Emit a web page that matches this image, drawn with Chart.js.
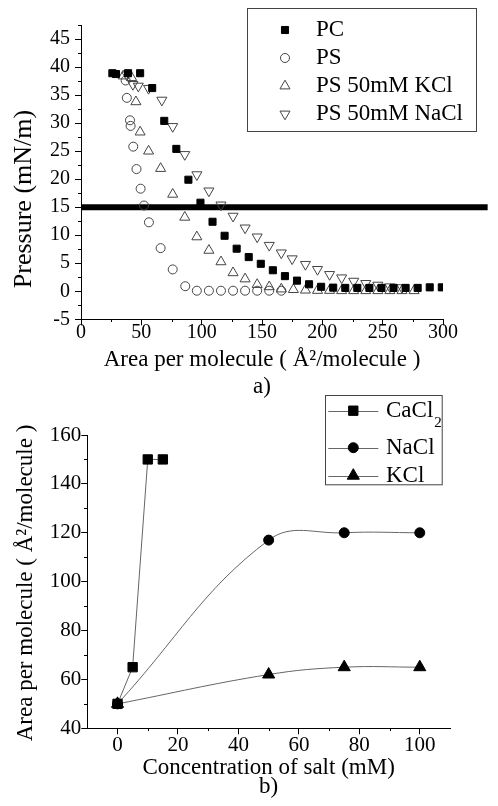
<!DOCTYPE html>
<html><head><meta charset="utf-8">
<script src="https://cdn.jsdelivr.net/npm/chart.js@4/dist/chart.umd.min.js"></script>
<style>
html,body{margin:0;padding:0;background:#fff;width:498px;height:806px;overflow:hidden;}
#ca{position:absolute;left:0;top:0;}
#cb{position:absolute;left:0;top:390px;}
</style></head><body>
<canvas id="ca" width="498" height="400" style="width:498px;height:400px"></canvas>
<canvas id="cb" width="498" height="416" style="width:498px;height:416px"></canvas>
<script>
// ---------- Chart a) data ----------
const pcX = [26, 29, 39, 49, 59, 69, 79, 89, 99, 109, 119, 129, 139, 149, 159, 169, 179, 189, 199, 209, 219, 229, 239, 249, 259, 269, 279, 289, 299];
const pcY = [38.9, 38.75, 38.9, 38.9, 36.25, 30.4, 25.4, 19.9, 15.8, 12.4, 9.9, 7.6, 6.1, 4.9, 3.75, 2.7, 1.9, 1.25, 0.8, 0.65, 0.6, 0.6, 0.6, 0.6, 0.6, 0.6, 0.6, 0.7, 0.7];
const psX = [37, 38, 40.6, 41.1, 43.3, 46, 49.4, 52.2, 56.3, 66, 76, 86.4, 96, 106, 116, 126, 136, 146, 156, 166];
const psY = [37.6, 34.5, 30.5, 29.5, 25.8, 21.8, 18.3, 15.3, 12.3, 7.7, 3.9, 0.9, 0.1, 0.1, 0.1, 0.1, 0.1, 0.1, 0.1, 0.1];
const kclX = [35, 42, 45.5, 49, 56, 66, 76, 86, 96, 106, 116, 126, 136, 146, 156, 166, 176, 186, 196, 206, 216, 226, 236, 246, 256, 266, 276];
const kclY = [38.4, 38.1, 33.8, 28.4, 25.0, 21.9, 17.3, 13.2, 9.7, 7.3, 5.25, 3.3, 2.2, 1.2, 0.8, 0.4, 0.3, 0.2, 0.15, 0.15, 0.1, 0.1, 0.1, 0.1, 0.1, 0.1, 0.1];
const naX = [38, 43, 47.5, 56, 67, 76, 86, 96, 106, 116, 126, 136, 146, 156, 166, 175, 186, 196, 206, 216, 226, 236, 246, 256, 266];
const naY = [38.6, 36.9, 36.6, 36.2, 34.1, 29.4, 24.4, 20.8, 17.9, 15.4, 13.4, 11.3, 9.7, 8.2, 6.85, 5.8, 4.8, 3.9, 3.0, 2.4, 1.8, 1.4, 1.1, 0.8, 0.65];
const refLineX = [0, 337];
const refLineY = [15, 15];
const seriesA = ['PC', 'PS', 'PS 50mM KCl', 'PS 50mM NaCl'];
const xTicksA = [0, 50, 100, 150, 200, 250, 300];
const xMinorA = [25, 75, 125, 175, 225, 275];
const yTicksA = [-5, 0, 5, 10, 15, 20, 25, 30, 35, 40, 45];
const yMinorA = [-2.5, 2.5, 7.5, 12.5, 17.5, 22.5, 27.5, 32.5, 37.5, 42.5, 47.5];

// ---------- Chart b) data ----------
const seriesB = ['CaCl₂', 'NaCl', 'KCl'];
const caX = [0, 5, 10, 15];
const caY = [50, 65, 150, 150];
const naclX = [0, 50, 75, 100];
const naclY = [50, 117, 120, 120];
const kX = [0, 50, 75, 100];
const kY = [50, 62, 65, 65];
const xTicksB = [0, 20, 40, 60, 80, 100];
const xMinorB = [10, 30, 50, 70, 90];
const yTicksB = [40, 60, 80, 100, 120, 140, 160];
const yMinorB = [50, 70, 90, 110, 130, 150];

const FONT = "'Liberation Serif', 'Times New Roman', serif";
const pts = (xs, ys) => xs.map((x, i) => ({x, y: ys[i]}));

function drawMarker(ctx, style, x, y, r, rot, fill, stroke, lw) {
  ctx.save();
  ctx.beginPath();
  if (style === 'rect') { const s = Math.SQRT1_2 * r; ctx.rect(x - s, y - s, 2 * s, 2 * s); }
  else if (style === 'circle') { ctx.arc(x, y, r, 0, Math.PI * 2); }
  else if (style === 'triangle') {
    let a = (rot || 0) * Math.PI / 180;
    for (let k = 0; k < 3; k++) {
      const px = x + Math.sin(a) * r, py = y - Math.cos(a) * r;
      if (k) ctx.lineTo(px, py); else ctx.moveTo(px, py);
      a += 2 * Math.PI / 3;
    }
    ctx.closePath();
  }
  if (fill) { ctx.fillStyle = fill; ctx.fill(); }
  if (stroke && lw) { ctx.strokeStyle = stroke; ctx.lineWidth = lw; ctx.stroke(); }
  ctx.restore();
}

const deco = {
  id: 'deco',
  afterDraw(chart, args, o) {
    const ctx = chart.ctx;
    ctx.save();
    ctx.strokeStyle = '#000'; ctx.lineWidth = 1;
    for (const m of (o.minor || [])) {
      const s = chart.scales[m.axis];
      for (const v of m.values) {
        const p = Math.round(s.getPixelForValue(v)) + 0.5;
        ctx.beginPath();
        if (s.isHorizontal()) { const y0 = Math.round(chart.chartArea.bottom); ctx.moveTo(p, y0); ctx.lineTo(p, y0 + m.len); }
        else { const x0 = Math.round(chart.chartArea.left); ctx.moveTo(x0, p); ctx.lineTo(x0 - m.len, p); }
        ctx.stroke();
      }
    }
    if (o.ytitle) {
      const t = o.ytitle;
      ctx.save();
      ctx.translate(t.x, t.y);
      ctx.rotate(-Math.PI / 2);
      ctx.fillStyle = '#000';
      ctx.font = t.size + 'px ' + FONT;
      ctx.textAlign = 'center'; ctx.textBaseline = 'middle';
      ctx.fillText(t.text, 0, 0);
      ctx.restore();
    }
    if (o.legend) {
      const L = o.legend;
      ctx.strokeStyle = '#444'; ctx.lineWidth = 1;
      ctx.strokeRect(L.box[0] + 0.5, L.box[1] + 0.5, L.box[2] - L.box[0], L.box[3] - L.box[1]);
      L.items.forEach((di, k) => {
        const ds = chart.data.datasets[di];
        const y = L.rows[k];
        if (L.line) {
          ctx.beginPath(); ctx.strokeStyle = ds.borderColor; ctx.lineWidth = 1;
          ctx.moveTo(L.line[0], Math.round(y) + 0.5); ctx.lineTo(L.line[1], Math.round(y) + 0.5); ctx.stroke();
        }
        drawMarker(ctx, ds.pointStyle, L.markerX, y, ds.pointRadius, ds.pointRotation, ds.pointBackgroundColor, ds.pointBorderColor, ds.pointBorderWidth);
        ctx.fillStyle = '#000'; ctx.font = L.size + 'px ' + FONT;
        ctx.textAlign = 'left'; ctx.textBaseline = 'middle';
        const parts = ds.label.split('₂');
        ctx.fillText(parts[0], L.textX, y);
        if (parts.length > 1) {
          const w = ctx.measureText(parts[0]).width;
          ctx.font = L.subSize + 'px ' + FONT;
          ctx.fillText('2', L.textX + w + 1, y + L.subDy);
        }
      });
    }
    ctx.restore();
  }
};

function axis(opts) {
  return Object.assign({
    type: 'linear',
    grid: { display: true, drawOnChartArea: false, drawTicks: true, tickLength: 6, color: '#000', tickColor: '#000', lineWidth: 1 },
    border: { display: true, color: '#000', width: 1 },
  }, opts);
}

// ---------- Chart a ----------
new Chart(document.getElementById('ca'), {
  type: 'scatter',
  data: {
    datasets: [
      { label: seriesA[0], data: pts(pcX, pcY), pointStyle: 'rect', pointRadius: 5, pointRotation: 0,
        pointBackgroundColor: '#000', pointBorderColor: '#000', pointBorderWidth: 1, borderColor: '#000' },
      { label: seriesA[1], data: pts(psX, psY), pointStyle: 'circle', pointRadius: 4.5, pointRotation: 0,
        pointBackgroundColor: 'rgba(0,0,0,0)', pointBorderColor: '#444', pointBorderWidth: 1, borderColor: '#444' },
      { label: seriesA[2], data: pts(kclX, kclY), pointStyle: 'triangle', pointRadius: 5.8, pointRotation: 0,
        pointBackgroundColor: 'rgba(0,0,0,0)', pointBorderColor: '#444', pointBorderWidth: 1, borderColor: '#444' },
      { label: seriesA[3], data: pts(naX, naY), pointStyle: 'triangle', pointRadius: 5.8, pointRotation: 180,
        pointBackgroundColor: 'rgba(0,0,0,0)', pointBorderColor: '#444', pointBorderWidth: 1, borderColor: '#444' },
      { label: 'ref', data: pts(refLineX, refLineY), showLine: true, borderColor: '#000', borderWidth: 6,
        pointRadius: 0, clip: false, borderCapStyle: 'butt' }
    ]
  },
  options: {
    responsive: false, animation: false,
    layout: { padding: { left: 0, right: 55, top: 25, bottom: 0 } },
    plugins: {
      legend: { display: false }, tooltip: { enabled: false },
      deco: {
        minor: [{ axis: 'x', values: xMinorA, len: 3 }, { axis: 'y', values: yMinorA, len: 3 }],
        ytitle: { text: 'Pressure (mN/m)', x: 24.5, y: 199, size: 26 },
        legend: { box: [247, 8, 476, 131], rows: [30, 58, 86, 114], items: [0, 1, 2, 3], markerX: 285, textX: 316, size: 23 }
      }
    },
    scales: {
      x: axis({
        position: 'bottom', min: 0, max: 300,
        afterBuildTicks: s => { s.ticks = xTicksA.map(v => ({ value: v })); },
        afterFit: s => { s.height = 80.7; },
        ticks: { color: '#000', font: { family: FONT, size: 20, lineHeight: 1.2 }, padding: -5, maxRotation: 0, autoSkip: false },
        title: { display: true, text: ['Area per molecule ( Å²/molecule )', 'a)'], color: '#000',
          font: { family: FONT, size: 23, lineHeight: 1.15 }, padding: { top: 0, bottom: 0 } }
      }),
      y: axis({
        position: 'left', min: -5, max: 47.5,
        afterBuildTicks: s => { s.ticks = yTicksA.map(v => ({ value: v })); },
        afterFit: s => { s.width = 81; },
        ticks: { color: '#000', font: { family: FONT, size: 20 }, padding: 5, autoSkip: false }
      })
    }
  },
  plugins: [deco]
});

// ---------- Chart b ----------
new Chart(document.getElementById('cb'), {
  type: 'scatter',
  data: {
    datasets: [
      { label: seriesB[0], data: pts(caX, caY), showLine: true, tension: 0, borderColor: '#666', borderWidth: 1,
        pointStyle: 'rect', pointRadius: 6.6, pointRotation: 0, pointBackgroundColor: '#000', pointBorderColor: '#000', pointBorderWidth: 1 },
      { label: seriesB[1], data: pts(naclX, naclY), showLine: true, tension: 0.4, borderColor: '#666', borderWidth: 1,
        pointStyle: 'circle', pointRadius: 5, pointRotation: 0, pointBackgroundColor: '#000', pointBorderColor: '#000', pointBorderWidth: 1 },
      { label: seriesB[2], data: pts(kX, kY), showLine: true, tension: 0.4, borderColor: '#666', borderWidth: 1,
        pointStyle: 'triangle', pointRadius: 7, pointRotation: 0, pointBackgroundColor: '#000', pointBorderColor: '#000', pointBorderWidth: 1 }
    ]
  },
  options: {
    responsive: false, animation: false,
    layout: { padding: { left: 0, right: 48, top: 45, bottom: 0 } },
    plugins: {
      legend: { display: false }, tooltip: { enabled: false },
      deco: {
        minor: [{ axis: 'x', values: xMinorB, len: 3 }, { axis: 'y', values: yMinorB, len: 3 }],
        ytitle: { text: 'Area per molecule ( Å²/molecule )', x: 25.7, y: 193, size: 23 },
        legend: { box: [325, 5, 441.7, 94.3], rows: [20.7, 57.7, 85.7], items: [0, 1, 2], markerX: 353.3,
          line: [328.3, 378.3], textX: 386, size: 23, subSize: 15, subDy: 12 }
      }
    },
    scales: {
      x: axis({
        position: 'bottom', min: -10, max: 110,
        afterBuildTicks: s => { s.ticks = xTicksB.map(v => ({ value: v })); },
        afterFit: s => { s.height = 77.7; },
        ticks: { color: '#000', font: { family: FONT, size: 21, lineHeight: 1.2 }, padding: -1, maxRotation: 0, autoSkip: false },
        title: { display: true, text: ['Concentration of salt (mM)', 'b)'], color: '#000',
          font: { family: FONT, size: 23, lineHeight: 0.8 }, padding: { top: 0, bottom: 10 } }
      }),
      y: axis({
        position: 'left', min: 40, max: 160,
        afterBuildTicks: s => { s.ticks = yTicksB.map(v => ({ value: v })); },
        afterFit: s => { s.width = 87.3; },
        ticks: { color: '#000', font: { family: FONT, size: 21 }, padding: 0, autoSkip: false }
      })
    }
  },
  plugins: [deco]
});
</script>
</body></html>
